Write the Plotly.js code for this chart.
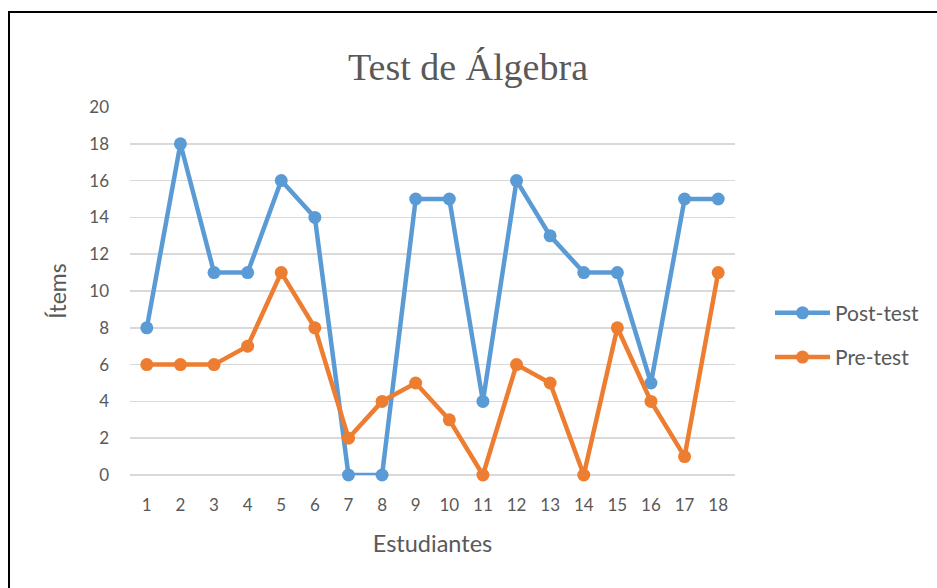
<!DOCTYPE html>
<html>
<head>
<meta charset="utf-8">
<script src="https://cdn.plot.ly/plotly-3.0.1.min.js"></script>
<style>
html,body{margin:0;padding:0;background:#fff;}
#frame{position:absolute;left:8px;top:11px;width:1000px;height:700px;border-left:2px solid #000;border-top:2px solid #000;}
#chart{position:absolute;left:0;top:0;width:937px;height:588px;}
</style>
</head>
<body>
<div id="frame"></div>
<div id="chart"></div>
<script>
const estudiantes = [1,2,3,4,5,6,7,8,9,10,11,12,13,14,15,16,17,18];
const postTest = [8,18,11,11,16,14,0,0,15,15,4,16,13,11,11,5,15,15];
const preTest  = [6,6,6,7,11,8,2,4,5,3,0,6,5,0,8,4,1,11];
const yTicks = [0,2,4,6,8,10,12,14,16,18,20];

const font = 'Lato, "Open Sans", sans-serif';
const traces = [
  {x: estudiantes, y: postTest, name: 'Post-test', type: 'scatter', mode: 'lines+markers',
   line: {color: '#5B9BD5', width: 4.5}, marker: {color: '#5B9BD5', size: 13}, cliponaxis: false, legendgroup: 'a'},
  {x: estudiantes, y: preTest, name: 'Pre-test', type: 'scatter', mode: 'lines+markers',
   line: {color: '#ED7D31', width: 4.5}, marker: {color: '#ED7D31', size: 13}, cliponaxis: false, legendgroup: 'b'}
];
const layout = {
  width: 937, height: 588,
  margin: {l: 130, r: 202, t: 107, b: 113},
  paper_bgcolor: 'rgba(0,0,0,0)', plot_bgcolor: 'rgba(0,0,0,0)',
  title: {text: 'Test de Álgebra', font: {family: '"Liberation Serif", "Times New Roman", serif', size: 38, color: '#595959'},
          x: 468/937, xanchor: 'center', xref: 'container', y: 1 - 67/588, yanchor: 'middle', yref: 'container'},
  xaxis: {type: 'linear', range: [0.5, 18.5], tickvals: estudiantes, ticktext: estudiantes.map(String),
          showgrid: false, zeroline: false, showline: false, ticks: '', ticklabelstandoff: 18,
          tickfont: {family: font, size: 17, color: '#595959'},
          title: {text: 'Estudiantes', font: {family: font, size: 23.5, color: '#595959'}, standoff: 21}},
  yaxis: {range: [0, 20], tickvals: yTicks, showgrid: true, gridcolor: '#D9D9D9', gridwidth: 1.5,
          zeroline: true, zerolinecolor: '#D9D9D9', zerolinewidth: 1.5, ticks: '', ticklabelstandoff: 20,
          tickfont: {family: font, size: 17, color: '#595959'},
          title: {text: 'Ítems', font: {family: font, size: 23, color: '#595959'}, standoff: 16}},
  legend: {xref: 'container', x: 770/937, y: 0.38, xanchor: 'left', yanchor: 'middle', traceorder: 'grouped', tracegroupgap: 14,
           itemwidth: 55, font: {family: font, size: 21, color: '#595959'}, bgcolor: 'rgba(0,0,0,0)'},
  showlegend: true
};
Plotly.newPlot('chart', traces, layout, {displayModeBar: false, staticPlot: true});
</script>
</body>
</html>
